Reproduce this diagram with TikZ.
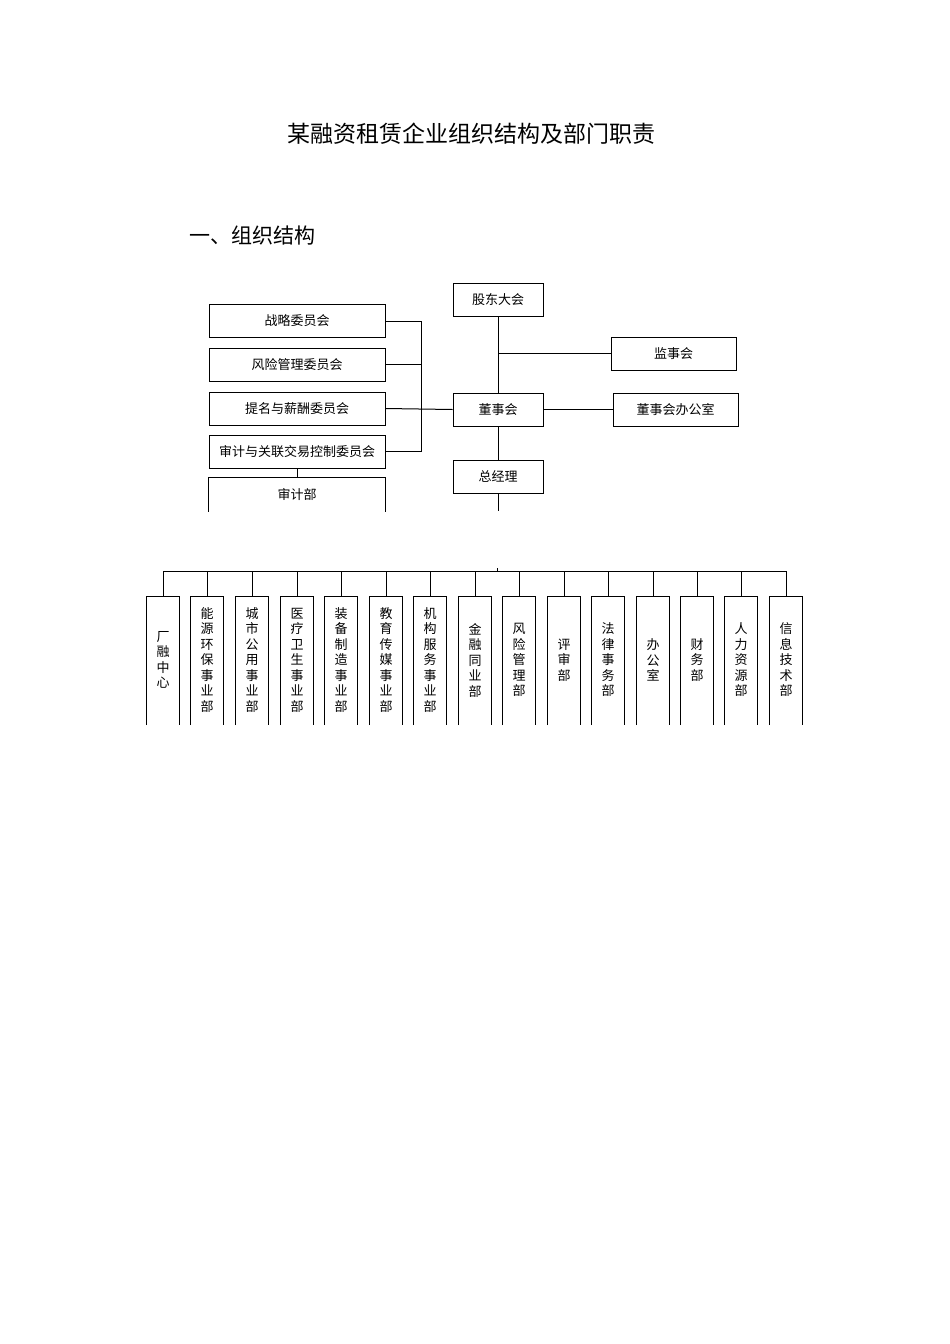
\documentclass[tikz,border=0pt]{standalone}
\usepackage{fontspec}
\setmainfont{Noto Sans CJK SC}
\begin{document}
\begin{tikzpicture}[x=1pt,y=-1pt,line width=1pt,
 bx/.style={draw,minimum width=90pt,minimum height=33pt,font=\fontsize{13}{15}\selectfont,inner sep=0},
 wbx/.style={draw,minimum width=176pt,minimum height=33pt,font=\fontsize{13}{15}\selectfont,inner sep=0},
 vt/.style={font=\fontsize{13}{15.5}\selectfont,align=center,inner sep=0}]
\useasboundingbox (0,0) rectangle (950,1344);
\node[font=\fontsize{23}{26}\selectfont] (title) at (471,134) {某融资租赁企业组织结构及部门职责};
\node[font=\fontsize{21}{24}\selectfont,anchor=west] (sec) at (186,236) {一、组织结构};
\node[bx] (gd) at (498,299.5) {股东大会};
\node[bx,minimum width=125pt] (js) at (673.5,353.5) {监事会};
\node[bx] (ds) at (498,409.5) {董事会};
\node[bx,minimum width=125pt] (dsb) at (675.5,409.5) {董事会办公室};
\node[bx] (zjl) at (498,476.5) {总经理};
\node[wbx] (c1) at (297,321) {战略委员会};
\node[wbx] (c2) at (297,364.5) {风险管理委员会};
\node[wbx] (c3) at (297,408.5) {提名与薪酬委员会};
\node[wbx] (c4) at (297,451.5) {审计与关联交易控制委员会};
\node[minimum width=176pt,minimum height=33pt,inner sep=0,font=\fontsize{13}{15}\selectfont] (sj) at (297,494.5) {审计部};
\draw (sj.south west)--(sj.north west)--(sj.north east)--(sj.south east);
\draw (c4.south)--(sj.north);
\draw (gd.south)--(ds.north);
\coordinate (j1) at (498,353.5);
\draw (j1)--(js.west);
\draw (ds.east)--(dsb.west);
\draw (ds.south)--(zjl.north);
\coordinate (zb) at (498,511);
\draw (zjl.south)--(zb);
\coordinate (br) at (421,408.5);
\draw (c1.east)--(421,321)--(421,451.5)--(c4.east);
\draw (c2.east)--(421,364.5);
\draw (c3.east)--(ds.west);
\coordinate (bl) at (163,571);
\coordinate (brr) at (786,571);
\draw (bl)--(brr);
\draw (497,568)--(497,571);
\foreach \x/\t [count=\i] in {163/厂\\融\\中\\心,207/能\\源\\环\\保\\事\\业\\部,252/城\\市\\公\\用\\事\\业\\部,297/医\\疗\\卫\\生\\事\\业\\部,341/装\\备\\制\\造\\事\\业\\部,386/教\\育\\传\\媒\\事\\业\\部,430/机\\构\\服\\务\\事\\业\\部,475/金\\融\\同\\业\\部,519/风\\险\\管\\理\\部,564/评\\审\\部,608/法\\律\\事\\务\\部,653/办\\公\\室,697/财\\务\\部,741/人\\力\\资\\源\\部,786/信\\息\\技\\术\\部}{
 \node[vt] (d\i) at (\x,660) {\t};
 \draw (\x-16.5,725)--(\x-16.5,596)--(\x+16.5,596)--(\x+16.5,725);
 \draw (\x,571)--(\x,596);
}
\end{tikzpicture}
\end{document}
